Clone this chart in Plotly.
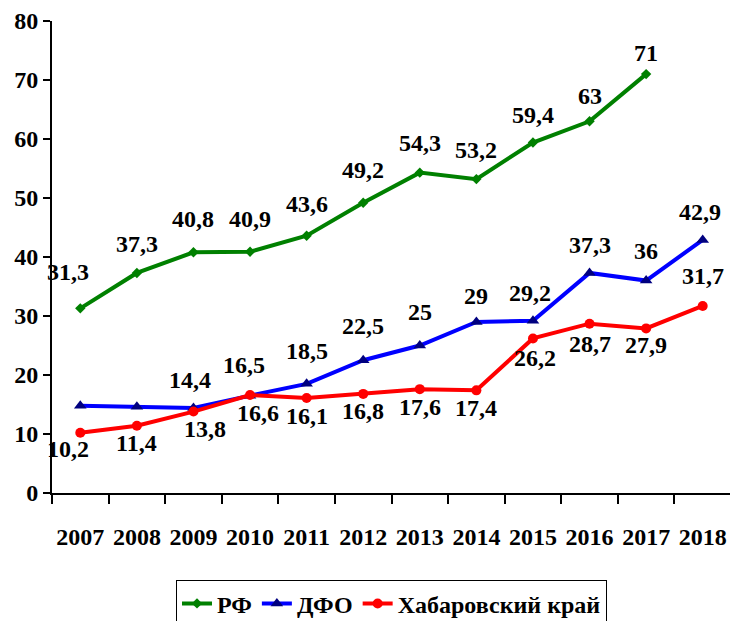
import plotly.graph_objects as go

years = ["2007", "2008", "2009", "2010", "2011", "2012", "2013", "2014", "2015", "2016", "2017", "2018"]
rf = [31.3, 37.3, 40.8, 40.9, 43.6, 49.2, 54.3, 53.2, 59.4, 63, 71, None]
dfo = [14.8, 14.6, 14.4, 16.5, 18.5, 22.5, 25, 29, 29.2, 37.3, 36, 42.9]
khab = [10.2, 11.4, 13.8, 16.6, 16.1, 16.8, 17.6, 17.4, 26.2, 28.7, 27.9, 31.7]
dfo_labeled = [False, False, True, True, True, True, True, True, True, True, True, True]

FONT = "Liberation Serif"
FS = 24
F = dict(family=FONT, size=FS, color="black", weight="bold")

fig = go.Figure()
fig.add_trace(go.Scatter(x=years, y=rf, name="РФ", mode="lines+markers",
                         line=dict(color="#008000", width=4),
                         marker=dict(symbol="diamond", size=8, color="#008000")))
fig.add_trace(go.Scatter(x=years, y=dfo, name="ДФО", mode="lines+markers",
                         line=dict(color="#0000FF", width=4),
                         marker=dict(symbol="triangle-up", size=11, color="#000080")))
fig.add_trace(go.Scatter(x=years, y=khab, name="Хабаровский край", mode="lines+markers",
                         line=dict(color="#FF0000", width=4),
                         marker=dict(symbol="circle", size=10, color="#FF0000")))

def fmt(v):
    return ("%g" % v).replace(".", ",")

# label offsets (pixels)
rf_dy = [36, 29, 33, 33, 32, 33, 30, 29, 28, 25, 21, 0]
rf_dx = [-12, 0, 0, 0, 0, 0, 0, 0, 0, 0, 0, 0]
dfo_dy = [0, 0, 28, 31, 33, 34, 34, 26, 28, 28, 30, 28]
dfo_dx = [0, 0, -3, -6, 0, 0, 0, 0, -3, 0, 0, -3]
kh_dy = [-16, -17, -17, -18, -18, -17, -18, -18, -20, -20, -17, 30]
kh_dx = [-12, 0, 12, 8, 0, 0, 0, 0, 2, 0, 0, 0]

ann = []
for i, y in enumerate(years):
    if rf[i] is not None:
        ann.append(dict(x=i, y=rf[i], text=fmt(rf[i]), xshift=rf_dx[i], yshift=rf_dy[i]))
    if dfo_labeled[i]:
        ann.append(dict(x=i, y=dfo[i], text=fmt(dfo[i]), xshift=dfo_dx[i], yshift=dfo_dy[i]))
    ann.append(dict(x=i, y=khab[i], text=fmt(khab[i]), xshift=kh_dx[i], yshift=kh_dy[i]))
for a in ann:
    a.update(xref="x", yref="y", showarrow=False, xanchor="center", yanchor="middle", font=F)

# page body has an 8px margin, so the figure is shrunk and margins offset accordingly
fig.update_layout(
    width=730, height=613,
    margin=dict(l=44, r=7, t=13, b=128, autoexpand=False),
    paper_bgcolor="white", plot_bgcolor="white",
    font=F,
    showlegend=True,
    legend=dict(orientation="h", x=0.5, xanchor="center", y=-0.185, yanchor="top",
                bordercolor="black", borderwidth=1, font=F,
                itemwidth=30, tracegroupgap=0),
    annotations=ann,
)
fig.update_xaxes(type="category", categoryorder="array", categoryarray=years,
                 range=[-0.5, 11.5], showline=True, linecolor="black", linewidth=2,
                 ticks="outside", tickson="boundaries", ticklen=9, tickcolor="black",
                 tickwidth=1.5, showgrid=False, zeroline=False, tickangle=0,
                 automargin=False, tickfont=F, ticklabelstandoff=21)
fig.update_yaxes(range=[0, 80], dtick=10, showline=True, linecolor="black", linewidth=2,
                 ticks="outside", ticklen=7, tickcolor="black", tickwidth=1.5,
                 showgrid=False, zeroline=False, automargin=False, tickfont=F)
fig.write_html("out.html")
